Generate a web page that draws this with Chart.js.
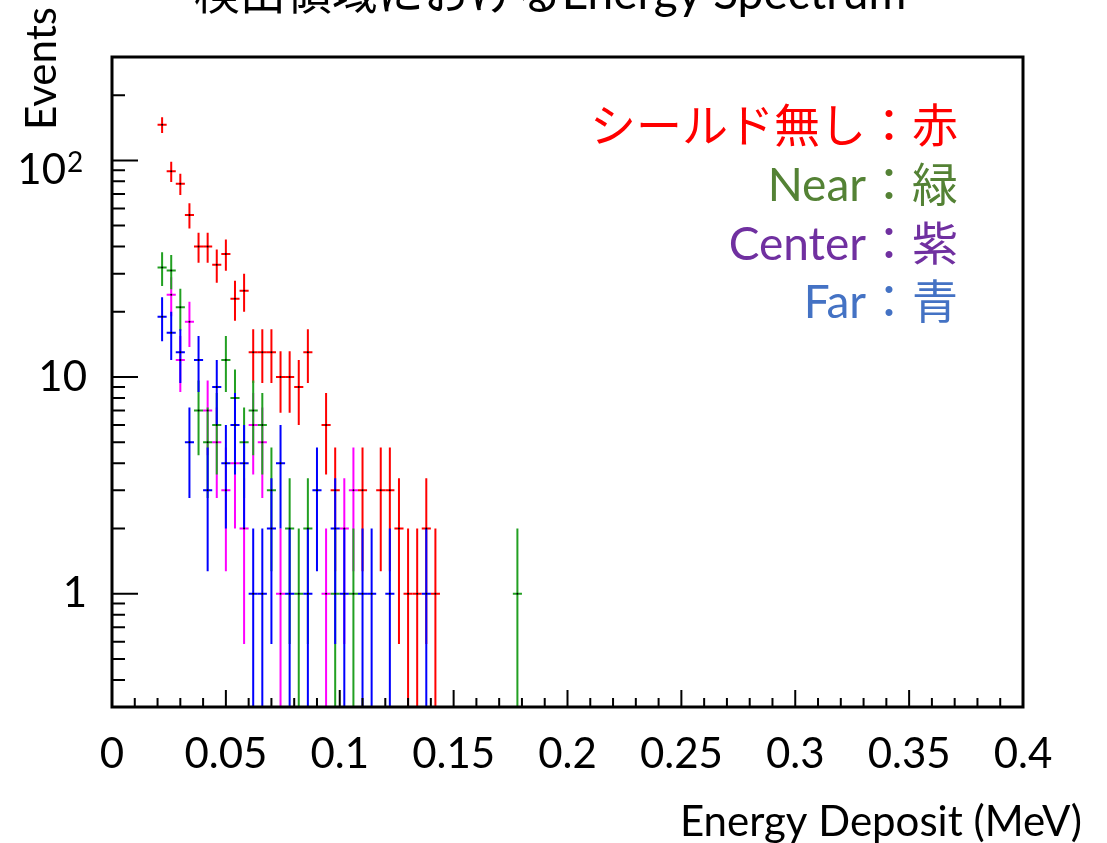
<!DOCTYPE html>
<html>
<head>
<meta charset="utf-8">
<script src="https://cdn.jsdelivr.net/npm/chart.js@4.4.1/dist/chart.umd.min.js"></script>
<style>
  body { margin: 0; background: #fff; }
</style>
</head>
<body>
<canvas id="spectrum-chart" width="1107" height="843"></canvas>
<script>
// bin centres (MeV), bin width 0.004
var binWidth = 0.004;
var binCenters = [
  0.022, 0.026, 0.030, 0.034, 0.038, 0.042, 0.046, 0.050, 0.054, 0.058,
  0.062, 0.066, 0.070, 0.074, 0.078, 0.082, 0.086, 0.090, 0.094, 0.098,
  0.102, 0.106, 0.110, 0.114, 0.118, 0.122, 0.126, 0.130, 0.134, 0.138,
  0.142, 0.146, 0.150, 0.154, 0.158, 0.162, 0.166, 0.170, 0.174, 0.178,
];
// events per bin, null = empty bin
var noShieldEvents = [
  146, 89, 78, 56, 40, 40, 33, 37, 23, 25,
  13, 13, 13, 10, 10, 9, 13, null, 6, 3,
  null, null, 3, null, 3, 3, 2, 1, 1, 2,
  1, null, null, null, null, null, null, null, null, null,
];
var nearEvents = [
  32, 31, 21, null, 7, 5, 6, 12, 8, 5,
  7, 6, 3, null, 2, 1, 2, null, null, 1,
  null, 1, null, null, null, null, null, null, null, null,
  null, null, null, null, null, null, null, null, null, 1,
];
var centerEvents = [
  null, 24, 12, 18, null, 7, 5, 3, 4, 2,
  6, 5, null, 1, null, null, null, null, 1, null,
  2, 3, null, null, null, null, null, null, null, null,
  null, null, null, null, null, null, null, null, null, null,
];
var farEvents = [
  19, 16, 13, 5, 12, 3, 9, 4, 6, 4,
  1, 1, 2, 4, 1, null, 1, 3, null, 2,
  1, null, 1, 1, null, 1, null, null, null, 1,
  null, null, null, null, null, null, null, null, null, null,
];

var xTickLabels = ["0", "0.05", "0.1", "0.15", "0.2", "0.25", "0.3", "0.35", "0.4"];
var yTickValues = [
  0.4, 0.5, 0.6, 0.7, 0.8, 0.9,
  1, 2, 3, 4, 5, 6, 7, 8, 9,
  10, 20, 30, 40, 50, 60, 70, 80, 90,
  100, 200,
];
// plain labels go through Chart.js, power labels (10^2) are drawn by the frame plugin
var yTickLabels = { 1: "1", 10: "10" };
var yPowerLabels = { 100: ["10", "2"] };

var labelFont = "Lato";
var cjkFont = '"Noto Sans CJK JP"';

function toPoints(counts) {
  let pts = [];
  counts.forEach((n, i) => {
    if (n !== null) {
      pts.push({ x: binCenters[i], y: n });
    }
  });
  return pts;
}

function histDataset(label, counts, color) {
  return {
    label: label,
    data: toPoints(counts),
    borderColor: color,
    pointRadius: 1,
    pointBorderWidth: 0,
    pointBackgroundColor: "#000",
  };
}

// vertical sqrt(N) bar + horizontal bin-width bar for every point
var errorBarPlugin = {
  id: "errorBars",
  beforeDatasetsDraw: function (chart) {
    let ctx = chart.ctx;
    let xs = chart.scales.x;
    let ys = chart.scales.y;
    let area = chart.chartArea;
    ctx.save();
    ctx.beginPath();
    ctx.rect(area.left, area.top, area.right - area.left, area.bottom - area.top);
    ctx.clip();
    ctx.lineWidth = 2;
    chart.data.datasets.forEach((ds) => {
      ctx.strokeStyle = ds.borderColor;
      ds.data.forEach((p) => {
        let err = Math.sqrt(p.y);
        let px = xs.getPixelForValue(p.x);
        let py = ys.getPixelForValue(p.y);
        let top = ys.getPixelForValue(p.y + err);
        let bottom = p.y - err > ys.min ? ys.getPixelForValue(p.y - err) : area.bottom;
        ctx.beginPath();
        ctx.moveTo(px, top);
        ctx.lineTo(px, bottom);
        ctx.moveTo(xs.getPixelForValue(p.x - binWidth / 2), py);
        ctx.lineTo(xs.getPixelForValue(p.x + binWidth / 2), py);
        ctx.stroke();
      });
    });
    ctx.restore();
  },
};

// frame, inward ticks, titles and the colour key
var framePlugin = {
  id: "frame",
  afterDraw: function (chart) {
    let ctx = chart.ctx;
    let xs = chart.scales.x;
    let ys = chart.scales.y;
    let area = chart.chartArea;
    ctx.save();
    ctx.strokeStyle = "#000";
    ctx.lineWidth = 2;
    ctx.beginPath();
    xs.ticks.forEach((t) => {
      let px = xs.getPixelForValue(t.value);
      let len = Math.round(t.value * 100) % 5 === 0 ? 17 : 9;
      ctx.moveTo(px, area.bottom);
      ctx.lineTo(px, area.bottom - len);
    });
    ys.ticks.forEach((t) => {
      let py = ys.getPixelForValue(t.value);
      let major = yTickLabels[t.value] !== undefined || yPowerLabels[t.value] !== undefined;
      let len = major ? 26 : 13;
      ctx.moveTo(area.left, py);
      ctx.lineTo(area.left + len, py);
    });
    ctx.stroke();
    ctx.lineWidth = 3;
    ctx.strokeRect(area.left, area.top, area.right - area.left, area.bottom - area.top);

    ctx.fillStyle = "#000";
    for (const [v, parts] of Object.entries(yPowerLabels)) {
      let py = ys.getPixelForValue(Number(v));
      ctx.font = "42px " + labelFont;
      ctx.textAlign = "right";
      ctx.textBaseline = "middle";
      ctx.fillText(parts[0], 66, py + 10);
      ctx.font = "28px " + labelFont;
      ctx.textAlign = "left";
      ctx.textBaseline = "alphabetic";
      ctx.fillText(parts[1], 67, py + 12);
    }

    ctx.textBaseline = "alphabetic";
    ctx.font = "46px " + labelFont + ", " + cjkFont;
    ctx.textAlign = "center";
    ctx.fillText("検出領域におけるEnergy Spectrum", 550, 9);

    ctx.font = "42px " + labelFont;
    ctx.textAlign = "right";
    ctx.fillText("Energy Deposit (MeV)", 1082, 836);

    ctx.save();
    ctx.translate(56, 130);
    ctx.rotate(-Math.PI / 2);
    ctx.textAlign = "left";
    ctx.fillText("Events", 0, 0);
    ctx.restore();

    ctx.font = "46px " + labelFont + ", " + cjkFont;
    ctx.textAlign = "right";
    ctx.fillStyle = "#ff0000";
    ctx.fillText("シールド無し：赤", 958, 142);
    ctx.fillStyle = "#548235";
    ctx.fillText("Near：緑", 958, 201);
    ctx.fillStyle = "#7030a0";
    ctx.fillText("Center：紫", 958, 260);
    ctx.fillStyle = "#4472c4";
    ctx.fillText("Far：青", 958, 318);
    ctx.restore();
  },
};

var spectrumChartData = {
  type: "scatter",
  data: {
    datasets: [
      histDataset("シールド無し", noShieldEvents, "#ff0000"),
      histDataset("Center", centerEvents, "#ff00ff"),
      histDataset("Near", nearEvents, "#22a022"),
      histDataset("Far", farEvents, "#0000ff"),
    ],
  },
  options: {
    responsive: false,
    animation: false,
    layout: {
      padding: { top: 57, right: 84, left: 0, bottom: 0 },
    },
    plugins: {
      legend: false,
      tooltip: { enabled: false },
    },
    scales: {
      x: {
        type: "linear",
        min: 0,
        max: 0.4,
        grid: { display: false, drawTicks: false },
        border: { display: false },
        afterFit: (scale) => {
          scale.height = 136;
        },
        ticks: {
          stepSize: 0.01,
          autoSkip: false,
          maxRotation: 0,
          minRotation: 0,
          padding: 22,
          color: "#000",
          font: { family: labelFont, size: 42 },
          callback: function (value) {
            let n = Math.round(value * 100);
            return n % 5 === 0 ? xTickLabels[n / 5] : "";
          },
        },
      },
      y: {
        type: "logarithmic",
        min: 0.3,
        max: 300,
        grid: { display: false, drawTicks: false },
        border: { display: false },
        afterFit: (scale) => {
          scale.width = 112;
        },
        afterBuildTicks: (scale) => {
          scale.ticks = yTickValues.map((v) => ({ value: v }));
        },
        ticks: {
          autoSkip: false,
          padding: 25,
          color: "#000",
          font: { family: labelFont, size: 42 },
          callback: function (value) {
            return yTickLabels[value] || "";
          },
        },
      },
    },
  },
  plugins: [errorBarPlugin, framePlugin],
};

var spectrumChart = new Chart(
  document.getElementById("spectrum-chart").getContext("2d"),
  spectrumChartData
);
</script>
</body>
</html>
